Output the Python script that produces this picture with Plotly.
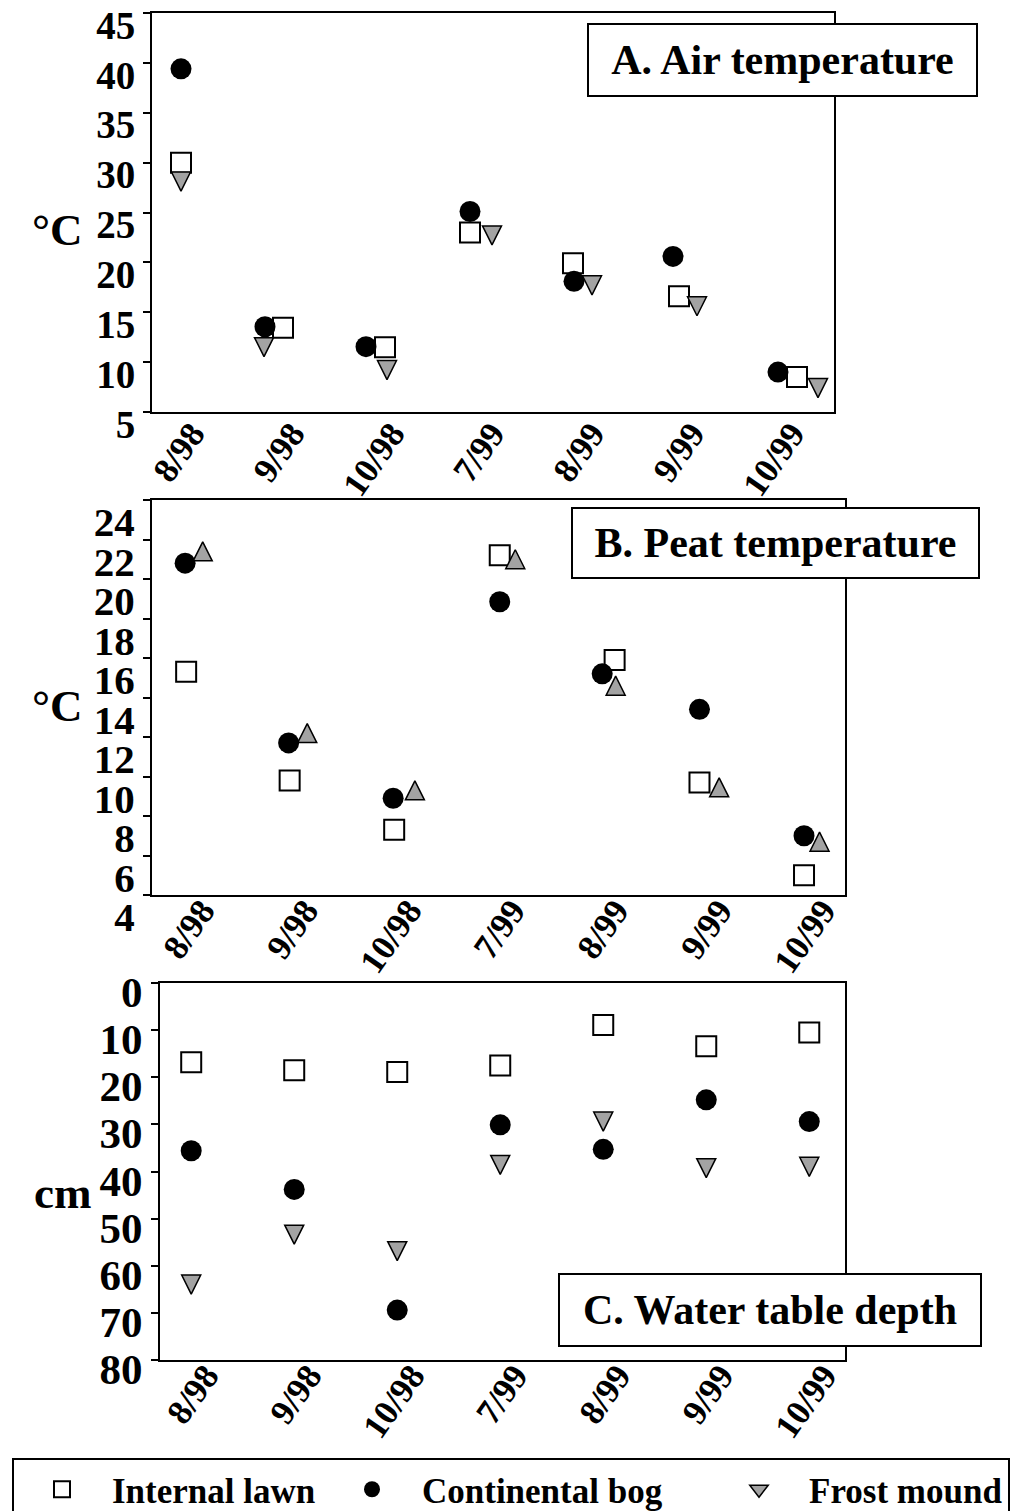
import plotly.graph_objects as go

# ---------------- data ----------------
categories = ["8/98", "9/98", "10/98", "7/99", "8/99", "9/99", "10/99"]
series_names = ["Internal lawn", "Continental bog", "Frost mound"]

# A. Air temperature (deg C)
air_lawn = [30.0, 13.45, 11.5, 23.0, 19.9, 16.6, 8.5]
air_bog = [39.4, 13.55, 11.55, 25.1, 18.1, 20.6, 9.0]
air_frost = [28.1, 11.5, 9.2, 22.7, 17.7, 15.6, 7.4]

# B. Peat temperature (deg C)
peat_lawn = [15.3, 9.8, 7.3, 21.2, 15.9, 9.7, 5.0]
peat_bog = [20.8, 11.7, 8.9, 18.85, 15.2, 13.4, 7.0]
peat_frost = [21.4, 12.2, 9.3, 21.0, 14.6, 9.45, 6.7]

# C. Water table depth (cm)
water_lawn = [16.8, 18.5, 18.9, 17.5, 8.9, 13.4, 10.5]
water_bog = [35.6, 43.8, 69.4, 30.1, 35.3, 24.8, 29.4]
water_frost = [64.0, 53.4, 56.9, 38.6, 29.4, 39.3, 39.0]

# horizontal jitter of each series around its category (category units)
jitter_A = {"lawn": [-0.19, -0.17, -0.15, -0.30, -0.27, -0.21, -0.03],
            "bog": [-0.19, -0.35, -0.34, -0.30, -0.26, -0.27, -0.22],
            "frost": [-0.19, -0.36, -0.13, -0.08, -0.08, -0.03, 0.18]}
jitter_B = {"lawn": [-0.25, -0.25, -0.24, -0.22, -0.11, -0.29, -0.28],
            "bog": [-0.26, -0.26, -0.25, -0.22, -0.23, -0.29, -0.28],
            "frost": [-0.09, -0.08, -0.04, -0.07, -0.10, -0.10, -0.13]}
jitter_C = {"lawn": [-0.25] * 7, "bog": [-0.25] * 7, "frost": [-0.25] * 7}

# ---------------- layout helpers ----------------
W, H = 1026, 1511
FONT = "Liberation Serif, Times New Roman, Times, serif"


def fx(p):
    return p / W


def fy(p):
    return 1 - p / H


panels = [
    dict(ax="", xdom=(152, 834), ydom=(13, 412), xrange=[-0.48, 6.34], yrange=[5, 45], dtick=5,
         tfs=39, shift=12, xshift=-8, xstand=-15, vals=(air_lawn, air_bog, air_frost), jit=jitter_A,
         up=False, unit="°C", unit_pos=(57, 230), label="A. Air temperature", box=(587, 978, 23, 97)),
    dict(ax="2", xdom=(152, 845), ydom=(500, 895), xrange=[-0.58, 6.116], yrange=[4, 24], dtick=2,
         tfs=41, shift=22, xshift=-10, xstand=-21, vals=(peat_lawn, peat_bog, peat_frost), jit=jitter_B,
         up=True, unit="°C", unit_pos=(57, 706), label="B. Peat temperature", box=(571, 980, 507, 579)),
    dict(ax="3", xdom=(160, 845), ydom=(983, 1360), xrange=[-0.553, 6.097], yrange=[80, 0], dtick=10,
         tfs=43, shift=-9, xshift=-11, xstand=-21, vals=(water_lawn, water_bog, water_frost), jit=jitter_C,
         up=False, unit="cm", unit_pos=(62, 1193), label="C. Water table depth", box=(558, 982, 1273, 1347)),
]

fig = go.Figure()
idx = list(range(len(categories)))

lawn_marker = dict(symbol="square", size=20, color="white", line=dict(color="black", width=2))
bog_marker = dict(symbol="circle", size=21, color="black", line=dict(color="black", width=0))
FROST_FILL = "#a3a3a3"
TRI = 19

annotations = []
for k, p in enumerate(panels):
    xa, ya = "x" + p["ax"], "y" + p["ax"]
    lawn, bog, frost = p["vals"]
    fig.add_trace(go.Scatter(
        x=[i + j for i, j in zip(idx, p["jit"]["lawn"])], y=lawn, mode="markers",
        name=series_names[0], legendgroup="lawn", showlegend=(k == 0),
        marker=lawn_marker, xaxis=xa, yaxis=ya, legendwidth=205))
    fig.add_trace(go.Scatter(
        x=[i + j for i, j in zip(idx, p["jit"]["bog"])], y=bog, mode="markers",
        name=series_names[1], legendgroup="bog", showlegend=(k == 0),
        marker=bog_marker, xaxis=xa, yaxis=ya, legendwidth=282))
    fig.add_trace(go.Scatter(
        x=[i + j for i, j in zip(idx, p["jit"]["frost"])], y=frost, mode="markers",
        name=series_names[2], legendgroup="frost", showlegend=False,
        marker=dict(symbol="arrow-down", size=TRI, angle=180 if p["up"] else 0, standoff=TRI / 2,
                    color=FROST_FILL, line=dict(color="black", width=1.5)),
        xaxis=xa, yaxis=ya))
    if k == 0:
        # legend entry for frost mound (down-pointing triangle)
        fig.add_trace(go.Scatter(
            x=[None], y=[None], mode="markers", name=series_names[2], legendgroup="frost",
            showlegend=True, xaxis=xa, yaxis=ya,
            marker=dict(symbol="triangle-down", size=17, color=FROST_FILL,
                        line=dict(color="black", width=1.5))))

    axis_common = dict(showline=True, linecolor="black", linewidth=2, mirror=True,
                       showgrid=False, zeroline=False)
    fig.update_layout({
        "xaxis" + p["ax"]: dict(
            domain=[fx(p["xdom"][0]), fx(p["xdom"][1])], anchor=ya, range=p["xrange"],
            tickmode="array", tickvals=idx, ticktext=categories, tickangle=-55, ticks="",
            ticklabelshift=p["xshift"], ticklabelstandoff=p["xstand"],
            tickfont=dict(family=FONT, size=35, color="black", weight="bold"), **axis_common),
        "yaxis" + p["ax"]: dict(
            domain=[fy(p["ydom"][1]), fy(p["ydom"][0])], anchor=xa, range=p["yrange"],
            dtick=p["dtick"], tick0=0, ticks="outside", ticklen=7, tickwidth=2, tickcolor="black",
            ticklabelshift=p["shift"],
            tickfont=dict(family=FONT, size=p["tfs"], color="black", weight="bold"), **axis_common),
    })

    annotations.append(dict(
        text=p["unit"], xref="paper", yref="paper", x=fx(p["unit_pos"][0]), y=fy(p["unit_pos"][1]),
        xanchor="center", yanchor="middle", showarrow=False,
        font=dict(family=FONT, size=45, color="black", weight="bold")))
    x0, x1, y0, y1 = p["box"]
    annotations.append(dict(
        text=p["label"], xref="paper", yref="paper", x=fx((x0 + x1) / 2), y=fy((y0 + y1) / 2),
        xanchor="center", yanchor="middle", showarrow=False,
        width=x1 - x0 - 4, height=y1 - y0 - 4, borderpad=0, borderwidth=2, bordercolor="black",
        bgcolor="white", align="center", valign="middle",
        font=dict(family=FONT, size=42, color="black", weight="bold")))

fig.update_layout(
    width=W, height=H,
    margin=dict(l=0, r=0, t=0, b=0, autoexpand=False),
    paper_bgcolor="white", plot_bgcolor="white",
    annotations=annotations,
    showlegend=True,
    legend=dict(orientation="h", x=fx(12), xanchor="left", y=fy(1458), yanchor="top",
                bordercolor="black", borderwidth=2, bgcolor="white",
                itemwidth=90, itemsizing="trace", entrywidthmode="pixels",
                font=dict(family=FONT, size=35, color="black", weight="bold")),
)

fig.write_html("out.html")
